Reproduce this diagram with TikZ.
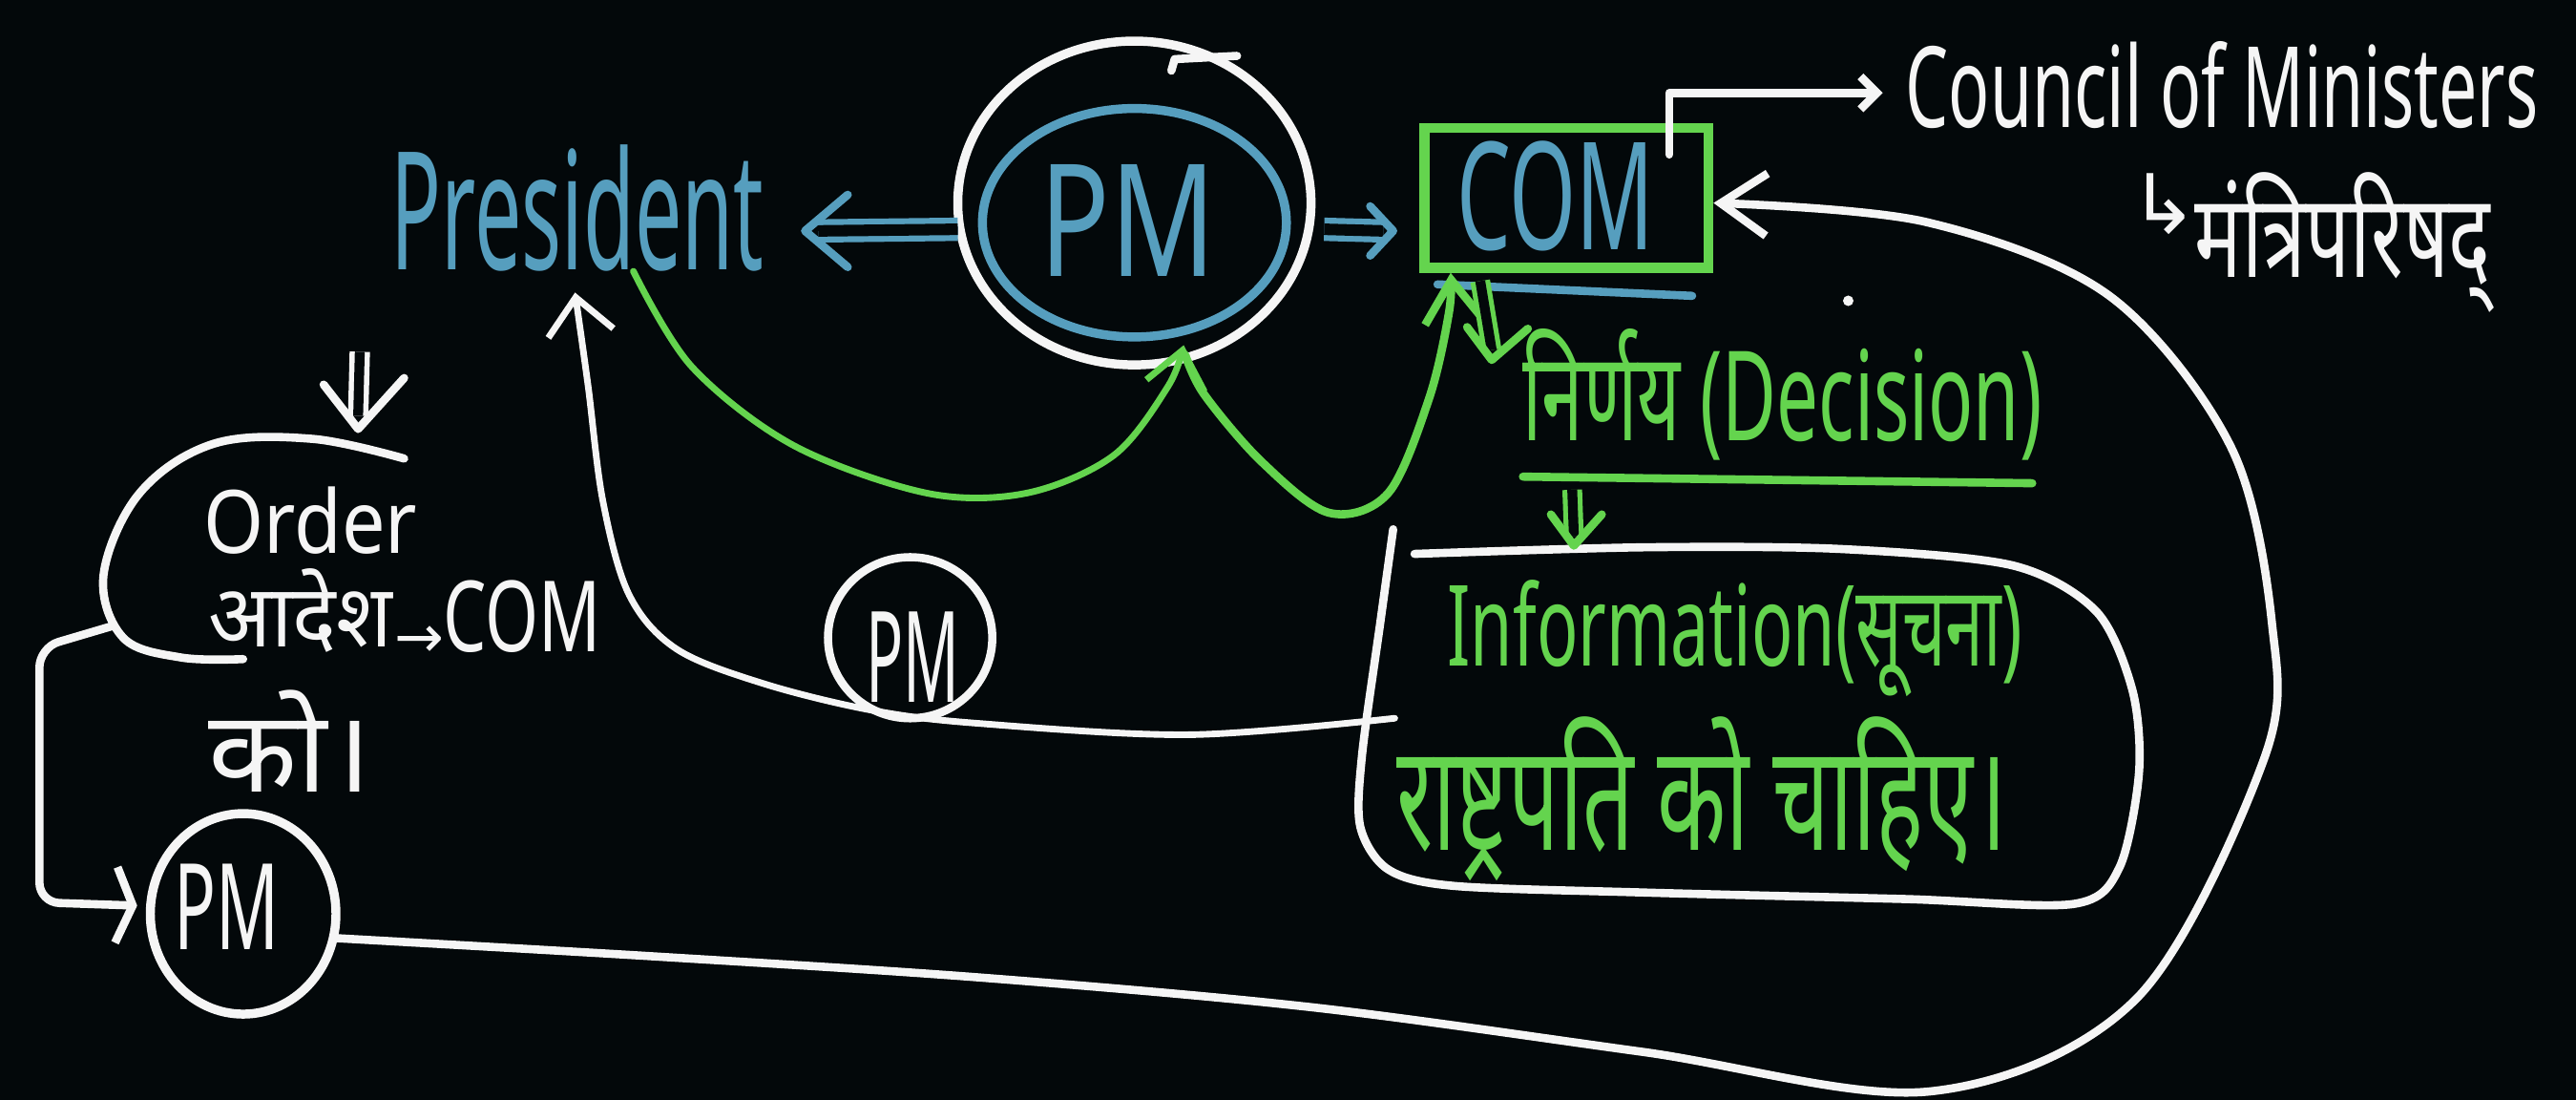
\documentclass[tikz,border=0pt]{standalone}
\usepackage{fontspec}
\usepackage{graphicx}
\setmainfont{Noto Sans}
\newfontfamily\hin{Noto Sans}[Script=Devanagari]
\newfontfamily\djv{DejaVu Sans}
\usetikzlibrary{shapes.geometric,arrows.meta}
\definecolor{bg}{RGB}{3,8,10}
\definecolor{chalkblue}{RGB}{86,158,190}
\definecolor{chalkgreen}{RGB}{100,212,78}
\definecolor{chalkwhite}{RGB}{245,245,245}
\begin{document}
\begin{tikzpicture}[x=1pt,y=-1pt,
  wl/.style={draw=chalkwhite, line width=5pt, line cap=round, line join=round},
  gl/.style={draw=chalkgreen, line width=5pt, line cap=round, line join=round},
  bl/.style={draw=chalkblue, line width=5pt, line cap=round, line join=round},
  txt/.style={inner sep=0pt, outer sep=0pt, anchor=south west, font=\fontsize{40}{44}\selectfont},
  dblw/.style={double=bg, double distance=7pt, line width=3.6pt, line cap=butt},
  ring/.style={ellipse, inner sep=0pt, outer sep=0pt}
]
\useasboundingbox (0,0) rectangle (1568,669);
\fill[bg] (0,0) rectangle (1568,669);

% ---------- text and shapes ----------
\node[txt, text=chalkblue] (pres) at (238,165) {\resizebox*{227pt}{77pt}{President}};
\node[ring, draw=chalkwhite, line width=5.5pt, minimum width=215pt, minimum height=197pt] (pmo) at (690.5,123.5) {};
\node[ring, draw=chalkblue, line width=5.5pt, minimum width=185pt, minimum height=139pt] (pmi) at (690.5,135.5) {};
\node[txt, text=chalkblue] (pmt) at (633,168) {\resizebox*{107pt}{68pt}{PM}};
\draw[wl] (713,43) -- (715,36) -- (753,34);

\node[draw=chalkgreen, line width=6pt, rectangle, minimum width=173pt, minimum height=85pt, inner sep=0pt] (com) at (953.5,120.5) {};
\node[txt, text=chalkblue] (comt) at (887,153) {\resizebox*{120pt}{67pt}{COM}};
\draw[bl] ([xshift=11pt,yshift=-7pt]com.south west) -- ([xshift=-13pt,yshift=-14pt]com.south east);

\node[txt, text=chalkwhite] (council) at (1160,78) {\resizebox*{385pt}{53pt}{Council of Ministers}};
\node[inner sep=0pt, anchor=base west, text=chalkwhite, font=\djv\fontsize{50}{50}\selectfont] (hook) at (1296,142) {↳};
\node[txt, text=chalkwhite] (mantri) at (1336,190) {\resizebox*{180pt}{85pt}{\hin मंत्रिपरिषद्}};
\fill[chalkwhite] (1125,183) circle (3.2);

\node[txt, text=chalkwhite] (order) at (124,337) {\resizebox*{130pt}{41pt}{Order}};
\node[txt, text=chalkwhite] (adesh) at (127,397) {\resizebox*{112pt}{51pt}{\hin आदेश}};
\node[inner sep=0pt, anchor=base west, text=chalkwhite, font=\djv\fontsize{36}{36}\selectfont] (arr) at (240,400) {→};
\node[txt, text=chalkwhite] (com2) at (270,397) {\resizebox*{96pt}{44pt}{COM}};
\node[txt, text=chalkwhite] (ko) at (127,482) {\resizebox*{99pt}{62pt}{\hin को।}};
\draw[wl] plot[smooth, tension=0.6] coordinates {(246,279) (190,267) (130,270) (85,300) (63,350) (75,388) (110,400) (148,401)};
\coordinate (ordL) at (68,381);

\node[ring, draw=chalkwhite, line width=5pt, minimum width=100pt, minimum height=98pt] (pm2) at (554,388) {};
\node[txt, text=chalkwhite] (pm2t) at (527,427) {\resizebox*{57pt}{55pt}{PM}};
\node[ring, draw=chalkwhite, line width=5.5pt, minimum width=113pt, minimum height=122pt] (pm3) at (148,556) {};
\node[txt, text=chalkwhite] (pm3t) at (106,578) {\resizebox*{64pt}{52pt}{PM}};

\node[txt, text=chalkgreen] (dec) at (927,280) {\resizebox*{316pt}{80pt}{\hin निर्णय (Decision)}};
\draw[gl] ([yshift=-10pt]dec.south west) -- ([xshift=-6pt,yshift=-14pt]dec.south east);
\node[txt, text=chalkgreen] (info1) at (881,424) {\resizebox*{350pt}{71pt}{\hin Information(सूचना)}};
\node[txt, text=chalkgreen] (info2) at (850,536) {\resizebox*{372pt}{100pt}{\hin राष्ट्रपति को चाहिए।}};
\draw[wl] plot[smooth, tension=0.5] coordinates {(848,322) (840,380) (829,460) (828,503) (845,529) (885,539) (1000,543) (1160,547) (1262,550) (1290,528) (1302,470) (1298,420) (1276,372) (1225,344) (1120,334) (1000,333) (861,337)};
\coordinate (infoL) at (849,437);

% ---------- connectors ----------
% PM => President
\coordinate (lA) at ([yshift=-16pt]pmo.west);
\coordinate (lTip) at ([xshift=25pt,yshift=-14pt]pres.east);
\draw[bl, dblw] (lA) -- ([xshift=8pt]lTip);
\draw[bl] (lTip) ++(26,-22) -- (lTip) -- ++(26,22);

% PM => COM
\coordinate (rA) at ([xshift=8pt,yshift=-16pt]pmo.east);
\coordinate (rTip) at ([xshift=-16pt,yshift=-20pt]com.west);
\draw[bl, dblw] (rA) -- ([xshift=-6pt]rTip);
\draw[bl] (rTip) ++(-14,-15) -- (rTip) -- ++(-14,15);

% COM -> Council of Ministers
\draw[wl, -{Straight Barb[length=10pt,width=20pt]}] ([xshift=-27pt,yshift=-19pt]com.north east) |- ([xshift=-14pt,yshift=-5pt]council.west);

% big loop PM -> COM
\draw[wl, -{Straight Barb[length=28pt,width=38pt]}] plot[smooth, tension=0.55] coordinates {(pm3.-15) (400,582) (600,595) (800,613) (1000,640) (1175,664) (1300,608) (1378,462) (1383,380) (1358,272) (1284,180) (1172,135) ([yshift=-3pt]com.east)};

% information -> President
\draw[wl, line width=4pt, -{Straight Barb[length=22pt,width=40pt]}] plot[smooth, tension=0.55] coordinates {(infoL) (724,447) (594,440) (530,432) (465,416) (412,395) (383,362) (367,305) (358,235) ([xshift=112pt,yshift=-13pt]pres.south west)};

% green President -> PM
\draw[gl, line width=4pt, -{Straight Barb[length=22pt,width=36pt]}] plot[smooth, tension=0.55] coordinates {([xshift=34pt]pres.south) (421,223) (483,271) (564,300) (625,300) (678,277) (711,235) ([xshift=30pt,yshift=12pt]pmo.south)};

% green PM -> COM
\draw[gl, -{Straight Barb[length=26pt,width=36pt]}] plot[smooth, tension=0.55] coordinates {([xshift=31pt,yshift=6pt]pmo.south) (733,240) (768,281) (809,312) (845,300) (870,242) (882,190) ([xshift=19pt]com.south west)};

% green COM => decision
\coordinate (d1A) at ([xshift=37pt,yshift=-5pt]com.south west);
\coordinate (d1Tip) at ([xshift=-19pt,yshift=-19pt]dec.north west);
\draw[gl, dblw, line width=3pt, double distance=6pt] (d1A) -- ([yshift=6pt]d1Tip);
\draw[gl] (d1Tip) ++(-15,-20) -- (d1Tip) -- ++(22,-19);

% green decision => information
\coordinate (d2A) at ([xshift=30pt,yshift=-18pt]dec.south west);
\coordinate (d2Tip) at ([xshift=31pt,yshift=-52pt]dec.south west);
\draw[gl, dblw, line width=3pt, double distance=6pt] (d2A) -- ([yshift=6pt]d2Tip);
\draw[gl] (d2Tip) ++(-14,-19) -- (d2Tip) -- ++(17,-19);

% white => Order
\coordinate (oA) at (219,214);
\coordinate (oTip) at (218,261);
\draw[wl, dblw, line width=3.2pt, double distance=6pt] (oA) -- ([yshift=8pt]oTip);
\draw[wl] (oTip) ++(-21,-27) -- (oTip) -- ++(28,-31);

% Order -> PM (bottom left)
\draw[wl, rounded corners=12pt, -{Straight Barb[length=10pt,width=46pt]}] (ordL) -- (24,394) -- (24,549) -- ([xshift=-8pt,yshift=5pt]pm3.west);
\end{tikzpicture}
\end{document}
